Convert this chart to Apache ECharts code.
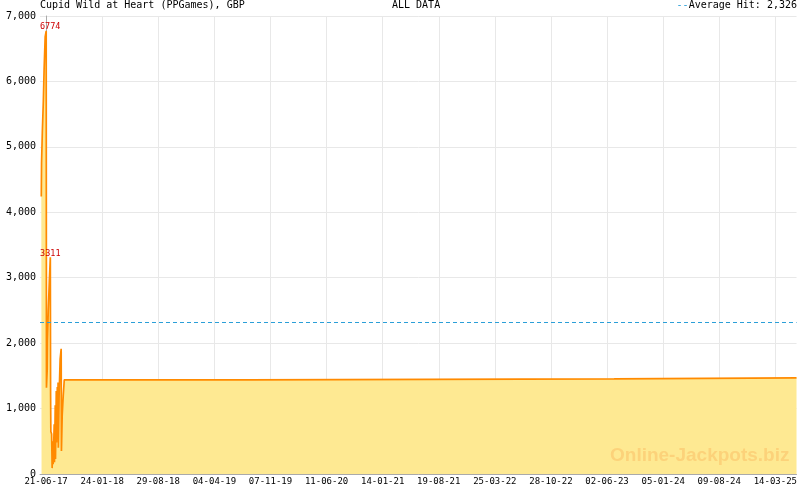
<!DOCTYPE html>
<html><head><meta charset="utf-8">
<script src="https://cdn.jsdelivr.net/npm/echarts@6/dist/echarts.min.js"></script>
<style>html,body{margin:0;padding:0;background:#fff}#c{width:800px;height:490px}</style>
</head><body><div id="c"></div>
<script>
// ---- data ----
const titleText = 'Cupid Wild at Heart (PPGames), GBP';
const rangeText = 'ALL DATA';
const avgHit = 2326;
const baseDate = '2017-06-21';           // first tick label date
const axisStartDay = -23;                // axis begins 23 days before first label
const axisEndDay = 2906;
const majorStepDays = 217.18;
const majorOffsetDays = 0.6;
const minorPerMajor = 7;
const dates = [
 '2017-06-03','2017-06-04','2017-06-07','2017-06-11','2017-06-14','2017-06-18','2017-06-22','2017-06-23',
 '2017-06-26','2017-06-27','2017-06-30','2017-07-04','2017-07-08','2017-07-09','2017-07-10','2017-07-13',
 '2017-07-15','2017-07-18','2017-07-19','2017-07-23','2017-07-24','2017-07-27','2017-07-28','2017-07-31',
 '2017-08-01','2017-08-04','2017-08-05','2017-08-07','2017-08-08','2017-08-11','2017-08-15','2017-08-19',
 '2017-08-20','2017-08-23','2017-08-27','2017-08-31','2019-08-14','2019-08-15','2023-06-30','2023-07-01',
 '2025-06-05'
];
const values = [
 4242,4750,5220,5710,6200,6680,6774,1320,
 1600,2050,2500,2930,3311,1230,650,610,
 90,500,150,760,180,1050,230,1270,
 480,1330,700,1400,400,1200,1760,1914,
 350,900,1200,1440,1440,1455,1455,1470,
 1470
];
const labeledValues = [6774, 3311];

// ---- helpers ----
const DAY = 86400000;
const base = Date.parse(baseDate + 'T00:00:00Z');
const toDay = s => Math.round((Date.parse(s + 'T00:00:00Z') - base) / DAY);
const fmtDay = d => {
  const dt = new Date(base + Math.floor(d) * DAY);
  const p = n => String(n).padStart(2, '0');
  return p(dt.getUTCDate()) + '-' + p(dt.getUTCMonth() + 1) + '-' + p(dt.getUTCFullYear() % 100);
};
const majorTicks = [];
for (let d = majorOffsetDays; d <= axisEndDay; d += majorStepDays) majorTicks.push(d);
const minorTicks = [];
for (let d = majorOffsetDays; d <= axisEndDay; d += majorStepDays / minorPerMajor) minorTicks.push(d);

const seriesData = dates.map((s, i) => {
  const item = { value: [toDay(s), values[i]] };
  if (labeledValues.includes(values[i])) {
    item.label = {
      show: true, position: 'top', distance: 0,
      offset: values[i] === 6774 ? [4, 1] : [0, 1],
      formatter: String(values[i]), color: '#cc0000',
      fontFamily: 'DejaVu Sans Mono', fontSize: 8.5
    };
  }
  return item;
});

const mono = 'DejaVu Sans Mono';
const chart = echarts.init(document.getElementById('c'), null, { renderer: 'canvas' });
chart.setOption({
  animation: false,
  backgroundColor: '#ffffff',
  title: [
    { text: titleText, left: 40, top: 0, padding: 0, textStyle: { fontFamily: mono, fontSize: 10, fontWeight: 'normal', color: '#000' } },
    { text: rangeText, left: 392, top: 0, padding: 0, textStyle: { fontFamily: mono, fontSize: 10, fontWeight: 'normal', color: '#000' } },
    { text: '{a|--}{b|Average Hit: ' + avgHit.toLocaleString('en-US') + '}', right: 3, top: 0, padding: 0,
      textStyle: { fontWeight: 'normal', rich: {
        a: { fontFamily: mono, fontSize: 10, fontWeight: 'normal', color: '#2b9fd8' },
        b: { fontFamily: mono, fontSize: 10, fontWeight: 'normal', color: '#000' } } } }
  ],
  grid: { left: 40, right: 1, top: 16, bottom: 16, containLabel: false },
  xAxis: [
    {
      type: 'value', min: axisStartDay, max: axisEndDay,
      axisLine: { show: true, lineStyle: { color: '#aaaaaa', width: 1 } },
      axisTick: { show: true, inside: true, length: 6, customValues: majorTicks, lineStyle: { color: '#aaaaaa' } },
      axisLabel: { show: true, customValues: majorTicks, formatter: v => fmtDay(v), fontFamily: mono, fontSize: 9, color: '#000', margin: 3 },
      splitLine: { show: true, lineStyle: { color: '#e8e8e8', width: 1 } }
    },
    {
      type: 'value', min: axisStartDay, max: axisEndDay, position: 'bottom',
      axisLine: { show: false },
      axisTick: { show: true, inside: true, length: 3, customValues: minorTicks, lineStyle: { color: '#aaaaaa' } },
      axisLabel: { show: false },
      splitLine: { show: false }
    }
  ],
  yAxis: {
    type: 'value', min: 0, max: 7000, interval: 1000,
    axisLine: { show: true, lineStyle: { color: '#aaaaaa', width: 1 } },
    axisTick: { show: false },
    axisLabel: { fontFamily: mono, fontSize: 10, color: '#000', margin: 4, formatter: v => v.toLocaleString('en-US') },
    splitLine: { show: true, lineStyle: { color: '#e8e8e8', width: 1 } }
  },
  graphic: [
    { type: 'text', left: 610, top: 446, z: 100, silent: true,
      style: { text: 'Online-Jackpots.biz', font: 'bold 19px "Liberation Sans", Arial, sans-serif', fill: '#fcd27a' } }
  ],
  series: [{
    type: 'line', xAxisIndex: 0, data: seriesData,
    showSymbol: true, symbol: 'circle', symbolSize: 0,
    lineStyle: { color: '#ff8a00', width: 1.7 },
    itemStyle: { color: '#ff8a00' },
    areaStyle: { color: '#fee992', opacity: 1 },
    markLine: {
      silent: true, symbol: 'none', label: { show: false },
      lineStyle: { color: '#2b9fd8', type: [4, 3], width: 1 },
      data: [{ yAxis: avgHit }]
    },
    z: 2
  }]
});
</script></body></html>
